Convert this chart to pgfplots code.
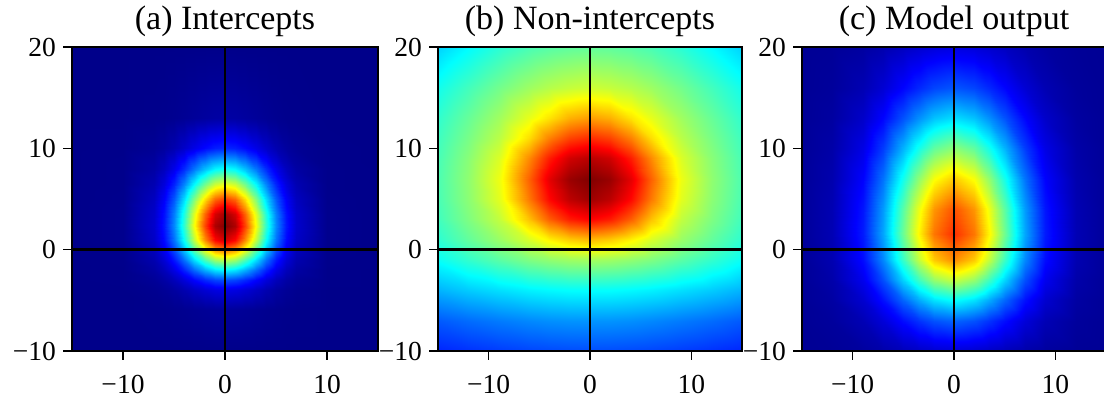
\documentclass[border=0pt]{standalone}
\usepackage{fontspec}
\setmainfont{Liberation Serif}
\usepackage{pgfplots}
\pgfplotsset{compat=1.18}

\pgfplotsset{
  panel/.style={
    scale only axis, width=152pt, height=152pt,
    xmin=-15, xmax=15, ymin=-10, ymax=20,
    axis on top, colormap/jet, point meta min=0, point meta max=1,
    xtick={-10,0,10}, xticklabels={−10,0,10},
    ytick={-10,0,10,20}, yticklabels={−10,0,10,20},
    tick align=outside, tick pos=left, major tick length=4.5pt,
    axis line style={line width=0.6pt},
    every tick/.style={black, line width=0.6pt},
    ticklabel style={font=\fontsize{13.75}{15}\selectfont},
    xticklabel style={yshift=-4pt},
    title style={font=\fontsize{17}{19}\selectfont, at={(0.5,1)}, anchor=base, yshift=2.5pt},
    anchor=south west,
  },
  zeroline/.style={black, line width=1.2pt},
}

\begin{document}
\begin{tikzpicture}
% (a) intercepts
\begin{axis}[panel, width=153pt, at={(36pt,24.5pt)}, title={(a) Intercepts}]
\addplot[surf, shader=interp, mesh/cols=19, point meta=explicit] table[row sep=\\, meta=v] {
x y v\\
-15 -10 0.010\\ -10 -10 0.010\\ -7 -10 0.010\\ -6 -10 0.010\\ -5 -10 0.010\\ -4 -10 0.010\\ -3 -10 0.010\\ -2 -10 0.010\\ -1 -10 0.010\\ 0 -10 0.010\\ 1 -10 0.010\\ 2 -10 0.010\\ 3 -10 0.010\\ 4 -10 0.010\\ 5 -10 0.010\\ 6 -10 0.010\\ 7 -10 0.010\\ 10 -10 0.010\\ 15 -10 0.010\\
-15 -6 0.010\\ -10 -6 0.010\\ -7 -6 0.011\\ -6 -6 0.012\\ -5 -6 0.014\\ -4 -6 0.016\\ -3 -6 0.019\\ -2 -6 0.022\\ -1 -6 0.024\\ 0 -6 0.025\\ 1 -6 0.024\\ 2 -6 0.022\\ 3 -6 0.019\\ 4 -6 0.016\\ 5 -6 0.014\\ 6 -6 0.012\\ 7 -6 0.011\\ 10 -6 0.010\\ 15 -6 0.010\\
-15 -4 0.010\\ -10 -4 0.010\\ -7 -4 0.016\\ -6 -4 0.022\\ -5 -4 0.032\\ -4 -4 0.047\\ -3 -4 0.065\\ -2 -4 0.082\\ -1 -4 0.095\\ 0 -4 0.100\\ 1 -4 0.095\\ 2 -4 0.082\\ 3 -4 0.065\\ 4 -4 0.047\\ 5 -4 0.032\\ 6 -4 0.022\\ 7 -4 0.016\\ 10 -4 0.010\\ 15 -4 0.010\\
-15 -3 0.010\\ -10 -3 0.011\\ -7 -3 0.023\\ -6 -3 0.036\\ -5 -3 0.057\\ -4 -3 0.088\\ -3 -3 0.125\\ -2 -3 0.162\\ -1 -3 0.190\\ 0 -3 0.200\\ 1 -3 0.190\\ 2 -3 0.162\\ 3 -3 0.125\\ 4 -3 0.088\\ 5 -3 0.057\\ 6 -3 0.036\\ 7 -3 0.023\\ 10 -3 0.011\\ 15 -3 0.010\\
-15 -2 0.010\\ -10 -2 0.011\\ -7 -2 0.034\\ -6 -2 0.058\\ -5 -2 0.099\\ -4 -2 0.157\\ -3 -2 0.227\\ -2 -2 0.297\\ -1 -2 0.349\\ 0 -2 0.368\\ 1 -2 0.349\\ 2 -2 0.297\\ 3 -2 0.227\\ 4 -2 0.157\\ 5 -2 0.099\\ 6 -2 0.058\\ 7 -2 0.034\\ 10 -2 0.011\\ 15 -2 0.010\\
-15 -1 0.010\\ -10 -1 0.012\\ -7 -1 0.046\\ -6 -1 0.084\\ -5 -1 0.146\\ -4 -1 0.234\\ -3 -1 0.341\\ -2 -1 0.447\\ -1 -1 0.527\\ 0 -1 0.556\\ 1 -1 0.527\\ 2 -1 0.447\\ 3 -1 0.341\\ 4 -1 0.234\\ 5 -1 0.146\\ 6 -1 0.084\\ 7 -1 0.046\\ 10 -1 0.012\\ 15 -1 0.010\\
-15 0 0.010\\ -10 0 0.013\\ -7 0 0.059\\ -6 0 0.111\\ -5 0 0.196\\ -4 0 0.316\\ -3 0 0.462\\ -2 0 0.607\\ -1 0 0.715\\ 0 0 0.755\\ 1 0 0.715\\ 2 0 0.607\\ 3 0 0.462\\ 4 0 0.316\\ 5 0 0.196\\ 6 0 0.111\\ 7 0 0.059\\ 10 0 0.013\\ 15 0 0.010\\
-15 1 0.010\\ -10 1 0.014\\ -7 1 0.070\\ -6 1 0.133\\ -5 1 0.237\\ -4 1 0.384\\ -3 1 0.562\\ -2 1 0.739\\ -1 1 0.871\\ 0 1 0.920\\ 1 1 0.871\\ 2 1 0.739\\ 3 1 0.562\\ 4 1 0.384\\ 5 1 0.237\\ 6 1 0.133\\ 7 1 0.070\\ 10 1 0.014\\ 15 1 0.010\\
-15 2.3 0.010\\ -10 2.3 0.014\\ -7 2.3 0.076\\ -6 2.3 0.145\\ -5 2.3 0.259\\ -4 2.3 0.421\\ -3 2.3 0.617\\ -2 2.3 0.811\\ -1 2.3 0.956\\ 0 2.3 1.000\\ 1 2.3 0.956\\ 2 2.3 0.811\\ 3 2.3 0.617\\ 4 2.3 0.421\\ 5 2.3 0.259\\ 6 2.3 0.145\\ 7 2.3 0.076\\ 10 2.3 0.014\\ 15 2.3 0.010\\
-15 3.5 0.010\\ -10 3.5 0.014\\ -7 3.5 0.073\\ -6 3.5 0.139\\ -5 3.5 0.249\\ -4 3.5 0.404\\ -3 3.5 0.592\\ -2 3.5 0.777\\ -1 3.5 0.916\\ 0 3.5 0.968\\ 1 3.5 0.916\\ 2 3.5 0.777\\ 3 3.5 0.592\\ 4 3.5 0.404\\ 5 3.5 0.249\\ 6 3.5 0.139\\ 7 3.5 0.073\\ 10 3.5 0.014\\ 15 3.5 0.010\\
-15 5 0.010\\ -10 5 0.013\\ -7 5 0.063\\ -6 5 0.119\\ -5 5 0.210\\ -4 5 0.341\\ -3 5 0.499\\ -2 5 0.655\\ -1 5 0.772\\ 0 5 0.815\\ 1 5 0.772\\ 2 5 0.655\\ 3 5 0.499\\ 4 5 0.341\\ 5 5 0.210\\ 6 5 0.119\\ 7 5 0.063\\ 10 5 0.013\\ 15 5 0.010\\
-15 6.5 0.010\\ -10 6.5 0.012\\ -7 6.5 0.049\\ -6 6.5 0.090\\ -5 6.5 0.157\\ -4 6.5 0.253\\ -3 6.5 0.369\\ -2 6.5 0.484\\ -1 6.5 0.570\\ 0 6.5 0.602\\ 1 6.5 0.570\\ 2 6.5 0.484\\ 3 6.5 0.369\\ 4 6.5 0.253\\ 5 6.5 0.157\\ 6 6.5 0.090\\ 7 6.5 0.049\\ 10 6.5 0.012\\ 15 6.5 0.010\\
-15 8 0.010\\ -10 8 0.012\\ -7 8 0.035\\ -6 8 0.061\\ -5 8 0.105\\ -4 8 0.166\\ -3 8 0.241\\ -2 8 0.314\\ -1 8 0.370\\ 0 8 0.390\\ 1 8 0.370\\ 2 8 0.314\\ 3 8 0.241\\ 4 8 0.166\\ 5 8 0.105\\ 6 8 0.061\\ 7 8 0.035\\ 10 8 0.012\\ 15 8 0.010\\
-15 10 0.010\\ -10 10 0.011\\ -7 10 0.020\\ -6 10 0.030\\ -5 10 0.047\\ -4 10 0.072\\ -3 10 0.101\\ -2 10 0.130\\ -1 10 0.152\\ 0 10 0.160\\ 1 10 0.152\\ 2 10 0.130\\ 3 10 0.101\\ 4 10 0.072\\ 5 10 0.047\\ 6 10 0.030\\ 7 10 0.020\\ 10 10 0.011\\ 15 10 0.010\\
-15 13 0.010\\ -10 13 0.010\\ -7 13 0.012\\ -6 13 0.013\\ -5 13 0.016\\ -4 13 0.020\\ -3 13 0.025\\ -2 13 0.030\\ -1 13 0.034\\ 0 13 0.035\\ 1 13 0.034\\ 2 13 0.030\\ 3 13 0.025\\ 4 13 0.020\\ 5 13 0.016\\ 6 13 0.013\\ 7 13 0.012\\ 10 13 0.010\\ 15 13 0.010\\
-15 20 0.010\\ -10 20 0.010\\ -7 20 0.010\\ -6 20 0.010\\ -5 20 0.010\\ -4 20 0.010\\ -3 20 0.010\\ -2 20 0.010\\ -1 20 0.010\\ 0 20 0.010\\ 1 20 0.010\\ 2 20 0.010\\ 3 20 0.010\\ 4 20 0.010\\ 5 20 0.010\\ 6 20 0.010\\ 7 20 0.010\\ 10 20 0.010\\ 15 20 0.010\\
};
\addplot[zeroline] coordinates {(0,-10) (0,20)};
\addplot[zeroline] coordinates {(-15,0) (15,0)};
\end{axis}

% (b) non-intercepts
\begin{axis}[panel, at={(219pt,24.5pt)}, title={(b) Non-intercepts}]
\addplot[surf, shader=interp, mesh/cols=13, point meta=explicit] table[row sep=\\, meta=v] {
x y v\\
-15 -10 0.160\\ -12 -10 0.172\\ -9 -10 0.183\\ -6 -10 0.192\\ -4 -10 0.196\\ -2 -10 0.199\\ 0 -10 0.200\\ 2 -10 0.199\\ 4 -10 0.196\\ 6 -10 0.192\\ 9 -10 0.183\\ 12 -10 0.172\\ 15 -10 0.160\\
-15 -7 0.212\\ -12 -7 0.230\\ -9 -7 0.245\\ -6 -7 0.258\\ -4 -7 0.265\\ -2 -7 0.269\\ 0 -7 0.270\\ 2 -7 0.269\\ 4 -7 0.265\\ 6 -7 0.258\\ 9 -7 0.245\\ 12 -7 0.230\\ 15 -7 0.212\\
-15 -4 0.301\\ -12 -4 0.325\\ -9 -4 0.345\\ -6 -4 0.363\\ -4 -4 0.371\\ -2 -4 0.377\\ 0 -4 0.378\\ 2 -4 0.377\\ 4 -4 0.371\\ 6 -4 0.363\\ 9 -4 0.345\\ 12 -4 0.325\\ 15 -4 0.301\\
-15 -1 0.382\\ -12 -1 0.423\\ -9 -1 0.462\\ -6 -1 0.498\\ -4 -1 0.515\\ -2 -1 0.528\\ 0 -1 0.533\\ 2 -1 0.528\\ 4 -1 0.515\\ 6 -1 0.498\\ 9 -1 0.462\\ 12 -1 0.423\\ 15 -1 0.382\\
-15 1 0.418\\ -12 1 0.470\\ -9 1 0.524\\ -6 1 0.585\\ -4 1 0.633\\ -2 1 0.671\\ 0 1 0.689\\ 2 1 0.671\\ 4 1 0.633\\ 6 1 0.585\\ 9 1 0.524\\ 12 1 0.470\\ 15 1 0.418\\
-15 3 0.438\\ -12 3 0.498\\ -9 3 0.565\\ -6 3 0.686\\ -4 3 0.783\\ -2 3 0.850\\ 0 3 0.876\\ 2 3 0.850\\ 4 3 0.783\\ 6 3 0.686\\ 9 3 0.565\\ 12 3 0.498\\ 15 3 0.438\\
-15 5 0.447\\ -12 5 0.511\\ -9 5 0.597\\ -6 5 0.757\\ -4 5 0.869\\ -2 5 0.941\\ 0 5 0.971\\ 2 5 0.941\\ 4 5 0.869\\ 6 5 0.757\\ 9 5 0.597\\ 12 5 0.511\\ 15 5 0.447\\
-15 7 0.450\\ -12 7 0.515\\ -9 7 0.608\\ -6 7 0.780\\ -4 7 0.900\\ -2 7 0.975\\ 0 7 1.000\\ 2 7 0.975\\ 4 7 0.900\\ 6 7 0.780\\ 9 7 0.608\\ 12 7 0.515\\ 15 7 0.450\\
-15 9 0.445\\ -12 9 0.508\\ -9 9 0.589\\ -6 9 0.740\\ -4 9 0.847\\ -2 9 0.921\\ 0 9 0.945\\ 2 9 0.921\\ 4 9 0.847\\ 6 9 0.740\\ 9 9 0.589\\ 12 9 0.508\\ 15 9 0.445\\
-15 11 0.435\\ -12 11 0.492\\ -9 11 0.557\\ -6 11 0.658\\ -4 11 0.749\\ -2 11 0.811\\ 0 11 0.834\\ 2 11 0.811\\ 4 11 0.749\\ 6 11 0.658\\ 9 11 0.557\\ 12 11 0.492\\ 15 11 0.435\\
-15 13 0.422\\ -12 13 0.475\\ -9 13 0.532\\ -6 13 0.602\\ -4 13 0.651\\ -2 13 0.703\\ 0 13 0.722\\ 2 13 0.703\\ 4 13 0.651\\ 6 13 0.602\\ 9 13 0.532\\ 12 13 0.475\\ 15 13 0.422\\
-15 16 0.392\\ -12 16 0.440\\ -9 16 0.488\\ -6 16 0.530\\ -4 16 0.553\\ -2 16 0.569\\ 0 16 0.578\\ 2 16 0.569\\ 4 16 0.553\\ 6 16 0.530\\ 9 16 0.488\\ 12 16 0.440\\ 15 16 0.392\\
-15 20 0.330\\ -12 20 0.372\\ -9 20 0.415\\ -6 20 0.446\\ -4 20 0.460\\ -2 20 0.469\\ 0 20 0.472\\ 2 20 0.469\\ 4 20 0.460\\ 6 20 0.446\\ 9 20 0.415\\ 12 20 0.372\\ 15 20 0.330\\
};
\addplot[zeroline] coordinates {(0,-10) (0,20)};
\addplot[zeroline] coordinates {(-15,0) (15,0)};
\end{axis}

% (c) model output
\begin{axis}[panel, at={(401pt,24.5pt)}, title={(c) Model output}]
\addplot[surf, shader=interp, mesh/cols=15, point meta=explicit] table[row sep=\\, meta=v] {
x y v\\
-15 -10 0.020\\ -12 -10 0.022\\ -9 -10 0.030\\ -7 -10 0.041\\ -5 -10 0.056\\ -3.5 -10 0.068\\ -2 -10 0.078\\ 0 -10 0.084\\ 2 -10 0.078\\ 3.5 -10 0.068\\ 5 -10 0.056\\ 7 -10 0.041\\ 9 -10 0.030\\ 12 -10 0.022\\ 15 -10 0.020\\
-15 -7 0.021\\ -12 -7 0.028\\ -9 -7 0.052\\ -7 -7 0.087\\ -5 -7 0.135\\ -3.5 -7 0.173\\ -2 -7 0.204\\ 0 -7 0.222\\ 2 -7 0.204\\ 3.5 -7 0.173\\ 5 -7 0.135\\ 7 -7 0.087\\ 9 -7 0.052\\ 12 -7 0.028\\ 15 -7 0.021\\
-15 -5 0.022\\ -12 -5 0.034\\ -9 -5 0.078\\ -7 -5 0.139\\ -5 -5 0.224\\ -3.5 -5 0.293\\ -2 -5 0.348\\ 0 -5 0.380\\ 2 -5 0.348\\ 3.5 -5 0.293\\ 5 -5 0.224\\ 7 -5 0.139\\ 9 -5 0.078\\ 12 -5 0.034\\ 15 -5 0.022\\
-15 -3 0.023\\ -12 -3 0.041\\ -9 -3 0.108\\ -7 -3 0.201\\ -5 -3 0.332\\ -3.5 -3 0.436\\ -2 -3 0.521\\ 0 -3 0.569\\ 2 -3 0.521\\ 3.5 -3 0.436\\ 5 -3 0.332\\ 7 -3 0.201\\ 9 -3 0.108\\ 12 -3 0.041\\ 15 -3 0.023\\
-15 -1 0.024\\ -12 -1 0.048\\ -9 -1 0.135\\ -7 -1 0.257\\ -5 -1 0.428\\ -3.5 -1 0.565\\ -2 -1 0.676\\ 0 -1 0.738\\ 2 -1 0.676\\ 3.5 -1 0.565\\ 5 -1 0.428\\ 7 -1 0.257\\ 9 -1 0.135\\ 12 -1 0.048\\ 15 -1 0.024\\
-15 1.5 0.025\\ -12 1.5 0.051\\ -9 1.5 0.150\\ -7 1.5 0.287\\ -5 1.5 0.480\\ -3.5 1.5 0.634\\ -2 1.5 0.760\\ 0 1.5 0.830\\ 2 1.5 0.760\\ 3.5 1.5 0.634\\ 5 1.5 0.480\\ 7 1.5 0.287\\ 9 1.5 0.150\\ 12 1.5 0.051\\ 15 1.5 0.025\\
-15 4 0.025\\ -12 4 0.050\\ -9 4 0.144\\ -7 4 0.276\\ -5 4 0.461\\ -3.5 4 0.608\\ -2 4 0.728\\ 0 4 0.796\\ 2 4 0.728\\ 3.5 4 0.608\\ 5 4 0.461\\ 7 4 0.276\\ 9 4 0.144\\ 12 4 0.050\\ 15 4 0.025\\
-15 7 0.024\\ -12 7 0.045\\ -9 7 0.125\\ -7 7 0.237\\ -5 7 0.393\\ -3.5 7 0.518\\ -2 7 0.620\\ 0 7 0.677\\ 2 7 0.620\\ 3.5 7 0.518\\ 5 7 0.393\\ 7 7 0.237\\ 9 7 0.125\\ 12 7 0.045\\ 15 7 0.024\\
-15 10 0.023\\ -12 10 0.039\\ -9 10 0.099\\ -7 10 0.182\\ -5 10 0.299\\ -3.5 10 0.393\\ -2 10 0.469\\ 0 10 0.512\\ 2 10 0.469\\ 3.5 10 0.393\\ 5 10 0.299\\ 7 10 0.182\\ 9 10 0.099\\ 12 10 0.039\\ 15 10 0.023\\
-15 13 0.022\\ -12 13 0.032\\ -9 13 0.072\\ -7 13 0.127\\ -5 13 0.204\\ -3.5 13 0.266\\ -2 13 0.316\\ 0 13 0.344\\ 2 13 0.316\\ 3.5 13 0.266\\ 5 13 0.204\\ 7 13 0.127\\ 9 13 0.072\\ 12 13 0.032\\ 15 13 0.022\\
-15 16 0.021\\ -12 16 0.027\\ -9 16 0.050\\ -7 16 0.082\\ -5 16 0.127\\ -3.5 16 0.163\\ -2 16 0.192\\ 0 16 0.209\\ 2 16 0.192\\ 3.5 16 0.163\\ 5 16 0.127\\ 7 16 0.082\\ 9 16 0.050\\ 12 16 0.027\\ 15 16 0.021\\
-15 20 0.020\\ -12 20 0.023\\ -9 20 0.032\\ -7 20 0.045\\ -5 20 0.063\\ -3.5 20 0.077\\ -2 20 0.089\\ 0 20 0.096\\ 2 20 0.089\\ 3.5 20 0.077\\ 5 20 0.063\\ 7 20 0.045\\ 9 20 0.032\\ 12 20 0.023\\ 15 20 0.020\\
};
\addplot[zeroline] coordinates {(0,-10) (0,20)};
\addplot[zeroline] coordinates {(-15,0) (15,0)};
\end{axis}
\pgfresetboundingbox
\useasboundingbox (0,0) rectangle (552pt,200pt);
\end{tikzpicture}
\end{document}
